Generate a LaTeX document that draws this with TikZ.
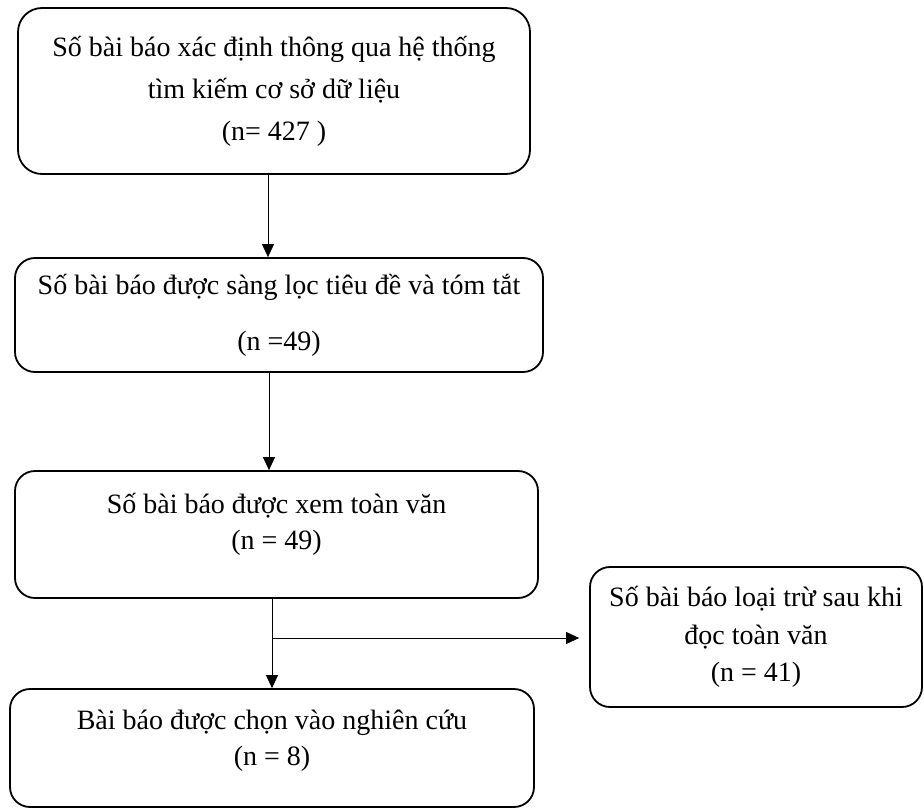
\documentclass[tikz,border=0pt]{standalone}
\usepackage{fontspec}
\setmainfont{Liberation Serif}
\usetikzlibrary{arrows.meta}

\begin{document}
\begin{tikzpicture}[x=1pt,y=-1pt,
    box/.style={draw, line width=1.8pt, rounded corners=20pt, align=center, inner sep=0pt,
      font=\fontsize{28}{36}\selectfont},
    arr/.style={-{Triangle[length=13pt,width=12pt]}, line width=0.8pt}]
    \useasboundingbox (0,0) rectangle (924,808);

    \node[box, minimum width=512pt, minimum height=166pt, rounded corners=24pt,
      font=\fontsize{28}{42}\selectfont] (search) at (274,91)
      {Số bài báo xác định thông qua hệ thống\\tìm kiếm cơ sở dữ liệu\\(n= 427 )};
    \node[box, minimum width=528pt, minimum height=114pt,
      font=\fontsize{28}{56}\selectfont] (screen) at (279,315)
      {Số bài báo được sàng lọc tiêu đề và tóm tắt\\(n =49)};
    \node[box, minimum width=523pt, minimum height=127pt, text depth=26pt] (fulltext) at (276.5,534.5)
      {Số bài báo được xem toàn văn\\(n = 49)};
    \node[box, minimum width=332pt, minimum height=140pt,
      font=\fontsize{28}{37.5}\selectfont] (excl) at (756,637)
      {Số bài báo loại trừ sau khi\\đọc toàn văn\\(n = 41)};
    \node[box, minimum width=524pt, minimum height=118pt, text depth=20pt] (incl) at (272,748)
      {Bài báo được chọn vào nghiên cứu\\(n = 8)};

    \coordinate (split) at (272,638);
    \draw[arr] ([xshift=-6pt]search.south) -- ([xshift=-6pt]search.south |- screen.north);
    \draw[arr] ([xshift=-10pt]screen.south) -- ([xshift=-10pt]screen.south |- fulltext.north);
    \draw[arr] (fulltext.south -| split) -- (incl.north -| split);
    \draw[arr, shorten >=10pt] (split) -- (split -| excl.west);
  \end{tikzpicture}
\end{document}
